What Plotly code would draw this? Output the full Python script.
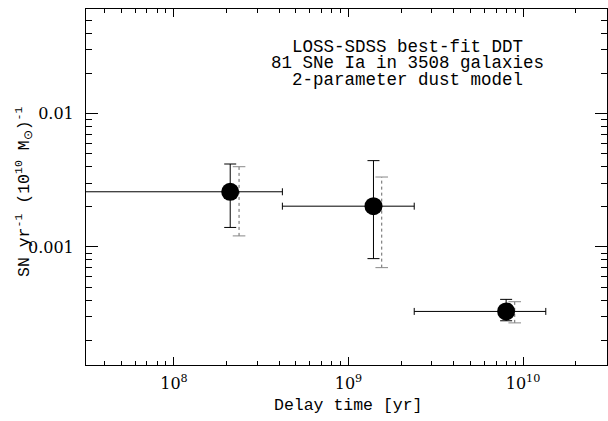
import plotly.graph_objects as go

# ---- data ----
delay_time = [2.10e8, 1.39e9, 8.0e9]            # bin centres [yr]
delay_low = [1.0e6, 4.18e8, 2.38e9]             # bin lower edges [yr]
delay_high = [4.18e8, 2.38e9, 1.35e10]          # bin upper edges [yr]
rate = [0.00259, 0.00202, 0.000329]             # SN yr^-1 (1e10 Msun)^-1
rate_hi = [0.00418, 0.00443, 0.000405]
rate_lo = [0.00140, 0.000818, 0.000280]

alt_time = [2.36e8, 1.55e9, 8.96e9]             # dotted (alternative) error bars
alt_hi = [0.00399, 0.00334, 0.000389]
alt_lo = [0.00121, 0.00070, 0.000270]

x_tickvals = [1e8, 1e9, 1e10]
x_ticktext = ["10<sup>8</sup>", "10<sup>9</sup>", "10<sup>10</sup>"]
y_tickvals = [0.001, 0.01]
y_ticktext = ["0.001", "0.01"]
x_minor = [m * 10 ** e for e in range(7, 11) for m in range(2, 10)]
y_minor = [m * 10.0 ** e for e in range(-4, -1) for m in range(2, 10)]

note_lines = ["LOSS-SDSS best-fit DDT",
              "81 SNe Ia in 3508 galaxies",
              "2-parameter dust model"]

NUMFONT = "DejaVu Serif"
TXTFONT = "Liberation Mono"

fig = go.Figure()

# dotted alternative error bars: stems
xs, ys = [], []
for t, lo, hi in zip(alt_time, alt_lo, alt_hi):
    xs += [t, t, None]
    ys += [lo, hi, None]
fig.add_trace(go.Scatter(x=xs, y=ys, mode="lines",
                         line=dict(color="#666", width=1, dash="dot"),
                         hoverinfo="skip", showlegend=False))
# caps of dotted bars
fig.add_trace(go.Scatter(x=alt_time + alt_time, y=alt_lo + alt_hi, mode="markers",
                         marker=dict(symbol="line-ew-open", size=9, color="#888",
                                     line=dict(color="#888", width=1)),
                         hoverinfo="skip", showlegend=False))

# main points with error bars
fig.add_trace(go.Scatter(
    x=delay_time, y=rate, mode="markers",
    marker=dict(color="black", size=18, symbol="circle"),
    error_y=dict(type="data", symmetric=False,
                 array=[h - r for h, r in zip(rate_hi, rate)],
                 arrayminus=[r - l for l, r in zip(rate_lo, rate)],
                 color="black", thickness=1, width=6),
    error_x=dict(type="data", symmetric=False,
                 array=[h - t for h, t in zip(delay_high, delay_time)],
                 arrayminus=[t - l for l, t in zip(delay_low, delay_time)],
                 color="black", thickness=1, width=3.5),
    showlegend=False))

axis_common = dict(type="log", showgrid=False, zeroline=False,
                   showline=True, linecolor="black", linewidth=1,
                   mirror="allticks", ticks="inside", tickcolor="black",
                   tickfont=dict(family=NUMFONT, size=16, color="black"))

fig.update_xaxes(**axis_common, range=[7.496, 10.481],
                 tickvals=x_tickvals, ticktext=x_ticktext,
                 ticklen=8, tickwidth=1, ticklabelstandoff=4,
                 minor=dict(ticks="inside", ticklen=4, tickcolor="black",
                            tickwidth=1, showgrid=False, tickvals=x_minor))
fig.update_yaxes(**axis_common, range=[-3.884, -1.218],
                 tickvals=y_tickvals, ticktext=y_ticktext,
                 ticklen=12, tickwidth=1, ticklabelstandoff=8,
                 minor=dict(ticks="inside", ticklen=6, tickcolor="black",
                            tickwidth=1, showgrid=False, tickvals=y_minor))

L, T, W, H = 86, 9, 521, 356
def px(xp):
    return (xp - L) / W
def py(yp):
    return 1 - (yp - T) / H

annotations = []
for i, line in enumerate(note_lines):
    annotations.append(dict(text=line, xref="paper", yref="paper",
                            x=px(407), y=py(47 + 16.5 * i),
                            xanchor="center", yanchor="middle", showarrow=False,
                            font=dict(family=TXTFONT, size=17.5, color="black")))
annotations.append(dict(text="Delay time [yr]", xref="paper", yref="paper",
                        x=px(348), y=py(406),
                        xanchor="center", yanchor="middle", showarrow=False,
                        font=dict(family=TXTFONT, size=16.5, color="black")))
annotations.append(dict(text="SN yr<sup>-1</sup> (10<sup>10</sup> M<sub>⊙</sub>)<sup>-1</sup>",
                        xref="paper", yref="paper", textangle=-90,
                        x=px(23), y=py(192),
                        xanchor="center", yanchor="middle", showarrow=False,
                        font=dict(family=TXTFONT, size=16.5, color="black")))

fig.update_layout(width=608, height=421,
                  margin=dict(l=L, r=608 - L - W, t=T, b=421 - T - H),
                  paper_bgcolor="white", plot_bgcolor="white",
                  annotations=annotations, showlegend=False)

fig.write_html("out.html")
